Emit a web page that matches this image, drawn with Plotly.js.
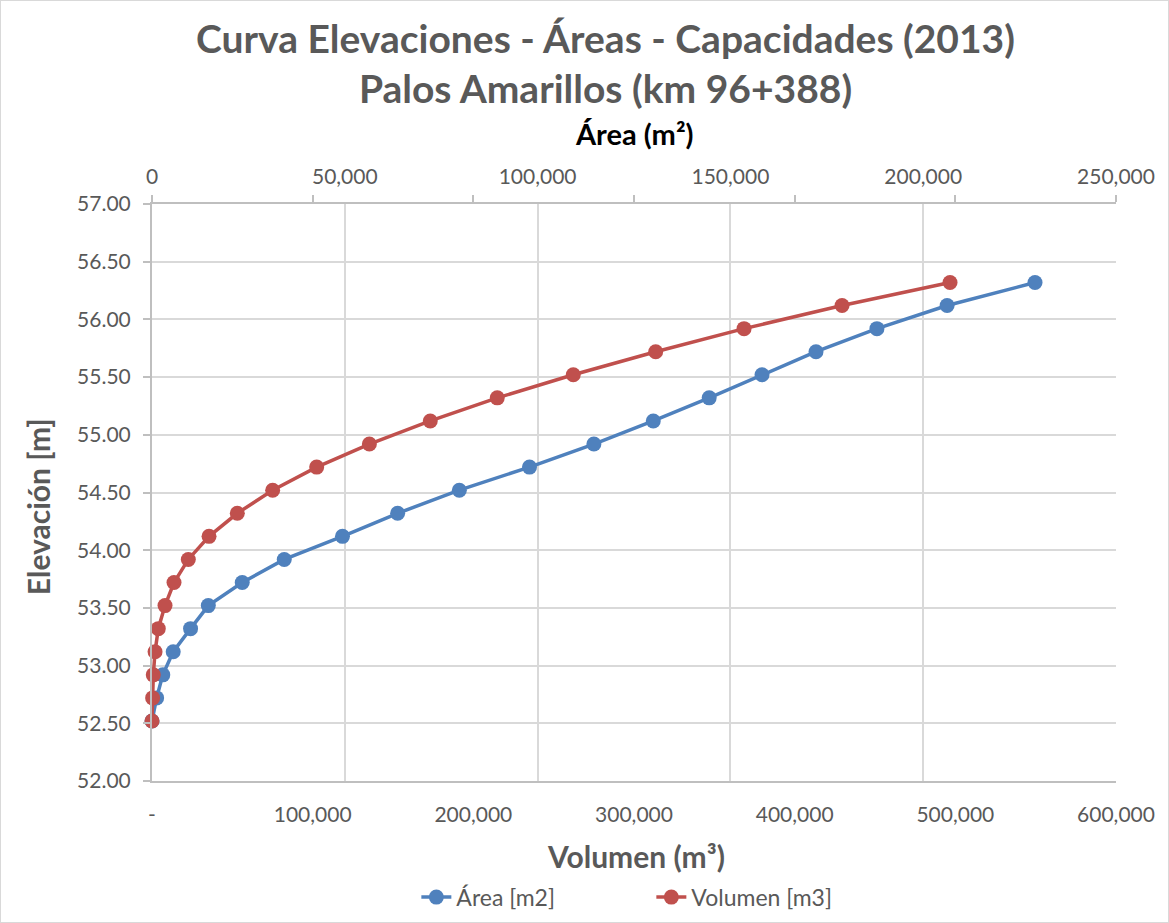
<!DOCTYPE html>
<html>
<head>
<meta charset="utf-8">
<script src="https://cdn.plot.ly/plotly-3.0.1.min.js"></script>
<style>
  html, body { margin: 0; padding: 0; background: #ffffff; }
  #chart { width: 1167px; height: 921px; border: 1px solid #d9d9d9; }
</style>
</head>
<body>
<div id="chart"></div>
<script>
// Elevations (m)
const elevaciones = [52.52, 52.72, 52.92, 53.12, 53.32, 53.52, 53.72, 53.92, 54.12, 54.32,
                     54.52, 54.72, 54.92, 55.12, 55.32, 55.52, 55.72, 55.92, 56.12, 56.32];
// Area (m2) – top axis
const areas = [0, 1200, 2800, 5500, 10000, 14600, 23400, 34300, 49400, 63700,
               79700, 97900, 114600, 130000, 144500, 158200, 172200, 188000, 206200, 229000];
// Volume (m3) – bottom axis
const volumenes = [0, 400, 800, 1900, 3900, 8100, 13700, 22600, 35500, 53100,
                   75100, 102500, 135300, 173200, 214900, 262200, 313500, 368500, 429500, 496700];

// Tick labels
const volTickVals = [0, 100000, 200000, 300000, 400000, 500000, 600000];
const volTickText = ['-', '100,000', '200,000', '300,000', '400,000', '500,000', '600,000'];
const areaTickVals = [0, 50000, 100000, 150000, 200000, 250000];
const areaTickText = ['0', '50,000', '100,000', '150,000', '200,000', '250,000'];
const elevTickVals = [52, 52.5, 53, 53.5, 54, 54.5, 55, 55.5, 56, 56.5, 57];

const FONT = 'Lato, "Open Sans", sans-serif';
const GRAY = '#595959';
const GRID = '#d9d9d9';
const LINE = '#bfbfbf';

const traces = [
  {
    name: 'Área [m2]',
    x: areas, y: elevaciones,
    xaxis: 'x', yaxis: 'y',
    mode: 'lines+markers',
    cliponaxis: false,
    line: { color: '#4f81bd', width: 3.5 },
    marker: { color: '#4f81bd', size: 15 }
  },
  {
    name: 'Volumen [m3]',
    x: volumenes, y: elevaciones,
    xaxis: 'x2', yaxis: 'y',
    mode: 'lines+markers',
    cliponaxis: false,
    line: { color: '#c0504d', width: 3.5 },
    marker: { color: '#c0504d', size: 15 }
  }
];

const layout = {
  width: 1167, height: 921,
  paper_bgcolor: '#ffffff', plot_bgcolor: '#ffffff',
  margin: { l: 151, r: 52, t: 203, b: 141 },
  font: { family: FONT, color: GRAY },
  showlegend: true,
  title: {
    text: 'Curva Elevaciones - Áreas - Capacidades (2013)<br>Palos Amarillos (km 96+388)',
    font: { family: FONT, size: 39, color: GRAY, weight: 'bold' },
    xref: 'container', x: 0.518, xanchor: 'center',
    yref: 'container', y: 0.944, yanchor: 'top'
  },
  // Area axis (top) – carries the vertical gridlines
  xaxis: {
    range: [0, 250000],
    side: 'top', anchor: 'y',
    tickmode: 'array', tickvals: areaTickVals, ticktext: areaTickText,
    showgrid: true, gridcolor: GRID, gridwidth: 2, zeroline: false,
    showline: true, linecolor: LINE, linewidth: 2,
    ticks: '', ticklabelstandoff: 10,
    tickfont: { family: FONT, size: 21, color: GRAY },
    minor: { tickmode: 'linear', tick0: 0, dtick: 250000 / 6, ticks: 'outside', ticklen: 7, tickwidth: 2, tickcolor: LINE, showgrid: false }
  },
  // Volume axis (bottom)
  xaxis2: {
    range: [0, 600000],
    overlaying: 'x', side: 'bottom', anchor: 'y',
    tickmode: 'array', tickvals: volTickVals, ticktext: volTickText,
    showgrid: false, zeroline: false,
    showline: true, linecolor: LINE, linewidth: 2,
    ticks: '', ticklabelstandoff: 14,
    tickfont: { family: FONT, size: 21, color: GRAY }
  },
  yaxis: {
    range: [52, 57],
    tickmode: 'array', tickvals: elevTickVals, tickformat: '.2f',
    showgrid: true, gridcolor: GRID, gridwidth: 2, zeroline: false,
    showline: true, linecolor: LINE, linewidth: 2,
    ticks: 'outside', ticklen: 7, tickwidth: 2, tickcolor: LINE,
    ticklabelstandoff: 8,
    tickfont: { family: FONT, size: 21, color: GRAY }
  },
  legend: {
    orientation: 'h',
    xref: 'paper', x: 0.518, xanchor: 'center',
    yref: 'container', y: 0.027, yanchor: 'middle',
    entrywidth: 190, entrywidthmode: 'pixels',
    font: { family: FONT, size: 23, color: GRAY },
    bgcolor: 'rgba(0,0,0,0)'
  },
  annotations: [
    { text: '<b>Área (m²)</b>', xref: 'paper', yref: 'paper', x: 0.5, y: 1.123,
      xanchor: 'center', yanchor: 'middle', showarrow: false,
      font: { family: FONT, size: 29, color: '#000000' } },
    { text: '<b>Volumen (m³)</b>', xref: 'paper', yref: 'paper', x: 0.502, y: -0.130,
      xanchor: 'center', yanchor: 'middle', showarrow: false,
      font: { family: FONT, size: 30, color: GRAY } },
    { text: '<b>Elevación [m]</b>', xref: 'paper', yref: 'paper', x: -0.118, y: 0.475,
      xanchor: 'center', yanchor: 'middle', showarrow: false, textangle: -90,
      font: { family: FONT, size: 30, color: GRAY } }
  ]
};

Plotly.newPlot('chart', traces, layout, { displayModeBar: false, responsive: false });
</script>
</body>
</html>
